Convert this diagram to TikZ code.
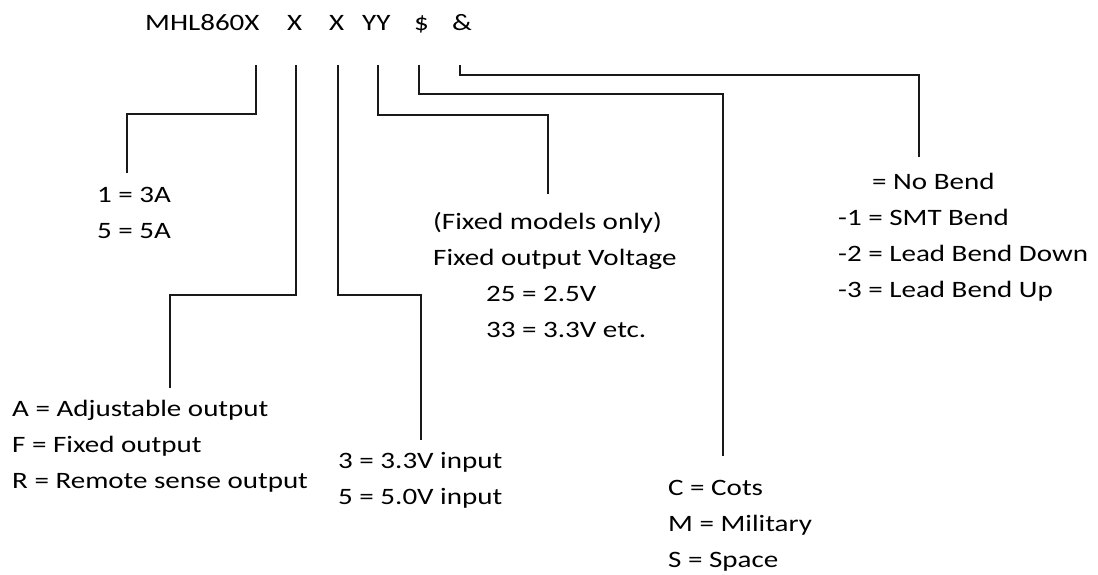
\documentclass[tikz,border=0pt]{standalone}
\usepackage{fontspec}
\setmainfont{Carlito}[FakeStretch=1.235]
\begin{document}
\begin{tikzpicture}[x=1pt,y=-1pt,
  lbl/.style={anchor=base west,inner sep=0pt,align=left,font=\fontsize{23.5}{35.8}\selectfont},
  tok/.style={anchor=base west,inner sep=0pt,font=\fontsize{23.5}{35.8}\selectfont},
  conn/.style={line width=1.6pt,color=black!90}]
\useasboundingbox[fill=white] (0,0) rectangle (1098,574);
% title tokens
\node[tok] (t0) at (145,30) {MHL860X};
\node[tok] (t1) at (287,30) {X};
\node[tok] (t2) at (329,30) {X};
\node[tok] (t3) at (362,30) {YY};
\node[tok] (t4) at (414,30) {\$};
\node[tok] (t5) at (452,30) {\&};
% labels (anchor = baseline of the last line)
\node[lbl] (l0) at (97,238) {1 = 3A\\5 = 5A};
\node[lbl] (l1) at (12,488) {A = Adjustable output\\F = Fixed output\\R = Remote sense output};
\node[lbl] (l2) at (338,504) {3 = 3.3V input\\5 = 5.0V input};
\node[lbl] (l3) at (433,337) {(Fixed models only)\\Fixed output Voltage\\\hspace*{53pt}25 = 2.5V\\\hspace*{53pt}33 = 3.3V etc.};
\node[lbl] (l4) at (668,567) {C = Cots\\M = Military\\S = Space};
\node[lbl] (l5) at (838,297) {\hspace*{34pt}= No Bend\\-1 = SMT Bend\\-2 = Lead Bend Down\\-3 = Lead Bend Up};
% connector end points
\coordinate (s0) at (256,65); \coordinate (e0) at (127,173);
\coordinate (s1) at (296,65); \coordinate (e1) at (170,388);
\coordinate (s2) at (338,65); \coordinate (e2) at (421,440);
\coordinate (s3) at (378,65); \coordinate (e3) at (548,194);
\coordinate (s4) at (419,65); \coordinate (e4) at (723,456);
\coordinate (s5) at (460,65); \coordinate (e5) at (919,157);
\draw[conn] (s0) -- (256,114) -| (e0);
\draw[conn] (s1) -- (296,295) -| (e1);
\draw[conn] (s2) -- (338,295) -| (e2);
\draw[conn] (s3) -- (378,115) -| (e3);
\draw[conn] (s4) -- (419,94) -| (e4);
\draw[conn] (s5) -- (460,75) -| (e5);
\end{tikzpicture}
\end{document}
